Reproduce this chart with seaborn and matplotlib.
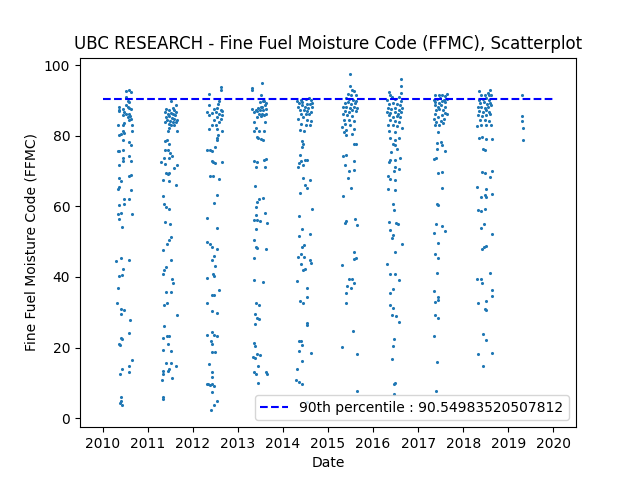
import matplotlib
matplotlib.use("Agg")  # headless rendering
import matplotlib.pyplot as plt
import numpy as np
import pandas as pd
import seaborn as sns

# fire-season readings, day of year and FFMC value
DAYS_2010 = [191, 218, 231, 191, 204, 212, 131, 131, 131, 164,
             191, 204, 218, 231, 177, 191, 212, 223, 169, 204,
             231, 218, 177, 123, 164, 239, 164, 239, 150, 137,
             177, 164, 218, 231, 123, 137, 164, 212, 164, 164,
             231, 137, 231, 218, 137, 150, 137, 123, 231, 172,
             137, 177, 218, 236, 123, 150, 137, 156, 110, 150,
             218, 164, 137, 156, 123, 115, 150, 177, 150, 226,
             212, 150, 156, 131, 145, 236, 218, 156, 218, 145,
             150, 150, 145, 156]
FFMC_2010 = [92.7, 92.9, 92.3, 91.0, 90.0, 89.6, 88.2, 87.4, 86.9, 87.7,
             88.6, 88.3, 88.0, 87.5, 86.7, 86.3, 86.1, 85.6, 85.8, 85.3,
             84.9, 84.4, 83.6, 83.2, 83.0, 83.0, 81.5, 81.5, 80.6, 80.1,
             80.8, 78.7, 78.2, 77.3, 75.7, 75.6, 76.1, 74.4, 73.8, 72.8,
             72.8, 71.8, 68.8, 68.5, 68.0, 67.1, 65.5, 65.0, 64.6, 62.2,
             60.3, 60.6, 62.2, 57.8, 57.8, 58.0, 56.3, 54.2, 44.4, 45.5,
             44.7, 42.4, 40.4, 40.6, 37.0, 32.7, 31.0, 30.6, 29.6, 27.7,
             24.2, 22.8, 22.5, 21.1, 20.6, 16.6, 14.7, 13.9, 13.1, 12.5,
             6.0, 4.9, 4.2, 3.6]

DAYS_2011 = [190, 230, 149, 176, 203, 217, 230, 144, 163, 190,
             208, 225, 149, 176, 198, 217, 235, 157, 181, 203,
             230, 171, 217, 144, 190, 176, 163, 235, 144, 155,
             176, 163, 144, 181, 136, 171, 198, 109, 144, 217,
             243, 149, 163, 176, 128, 176, 230, 122, 136, 149,
             171, 144, 181, 190, 171, 155, 122, 190, 149, 136,
             122, 198, 208, 149, 190, 155, 130, 235, 130, 155,
             176, 122, 163, 190, 122, 230, 149, 190, 176, 122,
             128, 117, 163, 195, 128, 122]
FFMC_2011 = [90.0, 88.6, 87.7, 87.4, 88.0, 87.2, 86.7, 86.7, 86.3, 86.5,
             86.1, 85.8, 85.3, 85.5, 85.1, 84.9, 84.6, 84.4, 84.2, 84.0,
             83.9, 83.4, 83.2, 83.9, 83.0, 82.3, 81.5, 81.3, 78.5, 78.7,
             77.6, 76.1, 75.9, 75.1, 73.8, 73.8, 74.4, 72.5, 72.1, 71.0,
             71.6, 69.5, 69.1, 69.5, 67.4, 67.2, 66.0, 62.9, 60.8, 59.8,
             59.4, 55.7, 55.1, 51.3, 50.4, 49.4, 47.7, 44.9, 42.8, 41.9,
             40.9, 39.3, 38.3, 35.7, 35.7, 32.7, 32.0, 29.3, 26.0, 23.2,
             23.2, 22.6, 21.1, 19.1, 19.2, 14.7, 15.5, 15.7, 13.8, 13.3,
             12.6, 10.9, 13.3, 11.5, 6.0, 5.5]

DAYS_2012 = [229, 229, 134, 215, 210, 134, 175, 202, 229, 242,
             121, 161, 188, 215, 237, 134, 202, 229, 175, 215,
             188, 156, 134, 194, 237, 210, 194, 202, 183, 121,
             140, 161, 156, 167, 183, 237, 140, 167, 215, 202,
             175, 121, 202, 121, 140, 161, 202, 175, 161, 183,
             121, 167, 172, 156, 177, 215, 121, 156, 202, 156,
             121, 172, 202, 150, 156, 156, 180, 134, 161, 161,
             121, 142, 156, 177, 129, 161, 199, 177, 148]
FFMC_2012 = [93.8, 92.9, 91.9, 90.0, 89.1, 88.6, 87.7, 88.0, 87.4, 87.0,
             86.7, 86.5, 86.7, 86.3, 85.8, 85.8, 85.3, 84.9, 84.4, 83.9,
             83.2, 83.0, 82.0, 81.8, 81.3, 80.1, 79.5, 78.7, 76.8, 76.1,
             75.9, 75.6, 73.0, 72.5, 72.3, 72.7, 68.7, 68.7, 67.9, 63.3,
             61.1, 56.8, 54.0, 50.0, 49.3, 48.5, 48.0, 45.9, 44.9, 43.0,
             39.8, 40.8, 40.2, 35.0, 35.0, 36.2, 32.5, 30.5, 29.9, 24.4,
             23.7, 23.5, 23.2, 21.9, 21.1, 18.8, 18.7, 15.3, 13.1, 11.7,
             9.8, 9.3, 9.6, 9.0, 9.8, 7.3, 5.0, 3.6, 2.2]

DAYS_2013 = [194, 119, 119, 186, 205, 178, 213, 226, 119, 146,
             167, 186, 200, 221, 132, 159, 178, 205, 226, 173,
             194, 213, 159, 186, 226, 132, 221, 151, 173, 213,
             132, 159, 186, 205, 167, 132, 159, 213, 232, 146,
             221, 140, 173, 205, 159, 151, 221, 132, 146, 159,
             178, 240, 146, 132, 146, 159, 232, 132, 132, 205,
             151, 173, 140, 159, 173, 140, 132, 140, 159, 178,
             124, 140, 167, 132, 151, 232, 240, 167]
FFMC_2013 = [95.0, 93.5, 93.1, 91.6, 90.0, 89.6, 89.9, 89.3, 87.7, 87.4,
             88.0, 88.2, 88.3, 88.6, 86.7, 87.0, 87.2, 87.4, 87.7, 86.1,
             86.3, 85.8, 85.3, 85.5, 86.3, 83.9, 83.9, 82.3, 81.5, 81.5,
             81.4, 79.8, 79.2, 78.9, 79.5, 73.0, 72.6, 73.2, 73.4, 71.3,
             71.3, 65.7, 62.2, 62.5, 61.2, 59.8, 58.0, 56.1, 57.5, 56.1,
             55.9, 55.4, 53.7, 50.4, 48.5, 48.3, 48.0, 45.5, 39.1, 38.5,
             32.7, 32.0, 29.6, 28.4, 28.2, 26.6, 21.3, 20.4, 18.1, 17.8,
             17.2, 17.1, 14.7, 13.1, 12.5, 13.1, 12.6, 10.1]

DAYS_2014 = [117, 144, 185, 212, 225, 131, 158, 198, 217, 238,
             125, 152, 179, 206, 233, 136, 171, 198, 225, 144,
             185, 212, 125, 163, 198, 225, 144, 185, 217, 136,
             171, 158, 163, 152, 136, 144, 131, 198, 163, 179,
             125, 163, 217, 179, 198, 136, 238, 131, 158, 131,
             217, 171, 158, 144, 125, 171, 217, 225, 144, 163,
             179, 117, 198, 198, 136, 163, 198, 198, 131, 144,
             158, 131, 225, 158, 117, 109, 131, 152, 198]
FFMC_2014 = [90.0, 90.2, 90.5, 90.8, 90.2, 89.3, 89.6, 89.1, 88.9, 89.3,
             88.3, 88.6, 88.2, 88.0, 88.2, 87.4, 87.2, 87.0, 86.7, 86.3,
             86.1, 86.3, 84.9, 85.3, 84.6, 84.2, 83.4, 83.0, 83.0, 81.7,
             81.5, 78.5, 77.8, 76.8, 74.5, 72.9, 72.3, 73.2, 71.6, 73.2,
             71.3, 68.1, 67.6, 66.0, 65.3, 63.8, 59.4, 57.2, 53.7, 51.5,
             52.1, 49.0, 48.5, 46.4, 45.7, 45.7, 44.7, 44.0, 43.6, 41.9,
             42.4, 38.8, 37.0, 34.2, 33.2, 32.6, 27.0, 26.3, 21.8, 21.8,
             20.7, 19.1, 18.5, 16.2, 13.8, 10.7, 10.3, 9.8, 4.6]

DAYS_2015 = [183, 183, 197, 210, 164, 191, 224, 148, 175, 202,
             229, 137, 164, 191, 218, 121, 148, 183, 210, 237,
             137, 170, 197, 224, 121, 156, 197, 129, 170, 210,
             137, 183, 116, 143, 210, 129, 197, 143, 210, 224,
             143, 121, 210, 137, 170, 210, 164, 191, 121, 148,
             137, 218, 237, 210, 224, 210, 116, 170, 197, 210,
             156, 191, 143, 143, 202, 116, 237, 237]
FFMC_2015 = [97.4, 94.0, 93.1, 92.7, 91.9, 91.6, 91.5, 90.8, 90.5, 90.2,
             90.0, 89.3, 89.6, 89.1, 89.3, 88.3, 88.2, 88.0, 88.3, 88.0,
             87.0, 86.7, 87.2, 87.0, 86.1, 85.8, 85.5, 84.6, 84.4, 84.2,
             83.4, 83.0, 82.5, 81.7, 82.0, 81.1, 80.6, 80.1, 77.8, 77.8,
             74.7, 74.2, 72.9, 71.6, 70.0, 70.2, 68.0, 65.3, 62.9, 55.9,
             55.3, 56.5, 54.6, 47.1, 45.5, 45.0, 43.3, 39.3, 39.5, 38.3,
             37.4, 37.0, 35.5, 32.5, 24.6, 20.2, 18.3, 7.7]

DAYS_2016 = [230, 230, 128, 230, 141, 114, 155, 182, 209, 230,
             128, 160, 195, 222, 122, 149, 182, 209, 235, 114,
             141, 176, 203, 230, 128, 160, 195, 222, 141, 176,
             209, 122, 160, 195, 235, 128, 182, 141, 176, 209,
             160, 182, 195, 149, 222, 141, 176, 133, 176, 209,
             168, 122, 141, 182, 122, 176, 160, 168, 128, 187,
             203, 141, 160, 155, 235, 176, 114, 141, 176, 209,
             160, 141, 141, 160, 155, 187, 209, 168, 160, 155,
             176, 168, 168]
FFMC_2016 = [96.2, 94.0, 92.4, 92.1, 91.7, 90.2, 91.0, 90.5, 91.0, 90.0,
             89.1, 89.3, 88.9, 88.6, 88.0, 87.7, 88.0, 87.4, 88.0, 86.7,
             86.5, 86.7, 86.3, 86.7, 85.8, 85.3, 85.5, 85.3, 84.4, 84.2,
             83.9, 83.2, 83.0, 82.7, 82.3, 81.5, 81.1, 79.5, 78.9, 79.5,
             77.8, 77.3, 76.4, 75.4, 73.8, 73.2, 73.2, 72.6, 71.2, 70.7,
             70.0, 68.5, 67.9, 67.4, 65.0, 64.7, 60.8, 59.1, 55.6, 55.3,
             55.1, 53.2, 51.8, 51.1, 49.3, 47.1, 43.6, 40.8, 40.8, 39.1,
             36.7, 35.6, 32.0, 31.3, 29.2, 29.0, 27.3, 22.5, 20.4, 16.9,
             10.0, 9.6, 6.8]

DAYS_2017 = [139, 166, 193, 220, 233, 126, 153, 180, 207, 233,
             139, 166, 193, 220, 134, 161, 188, 215, 145, 172,
             199, 134, 220, 233, 161, 193, 126, 207, 145, 188,
             166, 134, 199, 161, 188, 193, 153, 153, 215, 126,
             145, 161, 193, 193, 153, 161, 145, 193, 215, 126,
             161, 139, 161, 153, 126, 161, 161, 134, 139, 161,
             126, 153, 145]
FFMC_2017 = [91.7, 91.5, 91.7, 91.2, 91.9, 90.2, 90.5, 90.8, 90.2, 90.5,
             89.6, 89.3, 89.9, 89.6, 88.6, 88.3, 88.6, 88.2, 87.4, 87.7,
             87.2, 86.3, 86.5, 86.1, 85.3, 85.8, 84.9, 84.9, 83.9, 84.2,
             83.2, 83.0, 83.6, 81.1, 78.2, 77.3, 78.0, 76.4, 75.6, 73.5,
             73.8, 69.6, 69.7, 65.3, 60.6, 60.3, 55.1, 54.4, 53.1, 52.6,
             49.7, 46.4, 45.5, 41.2, 36.0, 34.3, 33.4, 32.9, 29.3, 28.5,
             23.4, 15.8, 7.8]

DAYS_2018 = [124, 219, 200, 146, 173, 205, 227, 124, 157, 184,
             211, 138, 165, 192, 219, 119, 146, 173, 200, 227,
             130, 157, 184, 211, 119, 151, 184, 219, 138, 173,
             205, 111, 146, 184, 227, 130, 151, 184, 232, 157,
             173, 151, 173, 232, 219, 111, 184, 146, 173, 184,
             232, 119, 146, 178, 165, 146, 232, 165, 151, 184,
             111, 146, 151, 219, 232, 232, 119, 184, 173, 184,
             157, 184, 119, 232, 157]
FFMC_2018 = [92.7, 92.9, 92.1, 91.5, 91.7, 91.5, 91.7, 90.2, 90.5, 90.8,
             90.2, 89.3, 89.6, 89.1, 89.3, 88.2, 88.3, 88.0, 88.2, 88.6,
             87.0, 86.7, 87.2, 86.7, 85.8, 85.5, 85.8, 86.1, 84.6, 84.4,
             84.2, 82.7, 83.2, 83.0, 83.2, 79.5, 79.8, 79.2, 79.2, 76.4,
             75.9, 69.7, 69.5, 70.0, 68.3, 65.5, 65.0, 62.7, 63.1, 62.7,
             63.4, 58.9, 58.7, 59.4, 54.9, 54.0, 52.3, 48.5, 48.0, 48.7,
             39.3, 39.5, 38.4, 41.2, 36.2, 34.5, 32.7, 33.1, 31.0, 30.6,
             23.8, 22.1, 18.1, 18.6, 14.7]

DAYS_2019 = [109, 115, 115, 118, 118]
FFMC_2019 = [91.5, 85.5, 84.2, 82.3, 78.7]

P90 = 90.54983520507812  # value printed in the reference legend
LINE_START = "2010-01-01"
LINE_END = "2020-01-01"

SEASONS = [
    (2010, DAYS_2010, FFMC_2010),
    (2011, DAYS_2011, FFMC_2011),
    (2012, DAYS_2012, FFMC_2012),
    (2013, DAYS_2013, FFMC_2013),
    (2014, DAYS_2014, FFMC_2014),
    (2015, DAYS_2015, FFMC_2015),
    (2016, DAYS_2016, FFMC_2016),
    (2017, DAYS_2017, FFMC_2017),
    (2018, DAYS_2018, FFMC_2018),
    (2019, DAYS_2019, FFMC_2019),
]


def build_frame() -> pd.DataFrame:
    parts = []
    for year, days, ffmc in SEASONS:
        assert len(days) == len(ffmc), year
        dates = pd.Timestamp(f"{year}-01-01") + pd.to_timedelta(np.array(days) - 1, unit="D")
        parts.append(pd.DataFrame({"date": dates, "ffmc": ffmc}))
    return pd.concat(parts, ignore_index=True)


def main() -> None:
    df = build_frame()

    fig, ax = plt.subplots(figsize=(6.4, 4.8), dpi=100)
    sns.scatterplot(data=df, x="date", y="ffmc", s=5, linewidth=0,
                    color="#1f77b4", ax=ax)
    line = ax.hlines(P90, pd.Timestamp(LINE_START), pd.Timestamp(LINE_END),
                     colors="blue", linestyles="--",
                     label=f"90th percentile : {P90}")
    ax.legend(handles=[line], loc="lower right")

    ax.set_title("UBC RESEARCH - Fine Fuel Moisture Code (FFMC), Scatterplot")
    ax.set_xlabel("Date")
    ax.set_ylabel("Fine Fuel Moisture Code (FFMC)")

    fig.savefig("out.png", dpi=100)
    plt.close(fig)


if __name__ == "__main__":
    main()
